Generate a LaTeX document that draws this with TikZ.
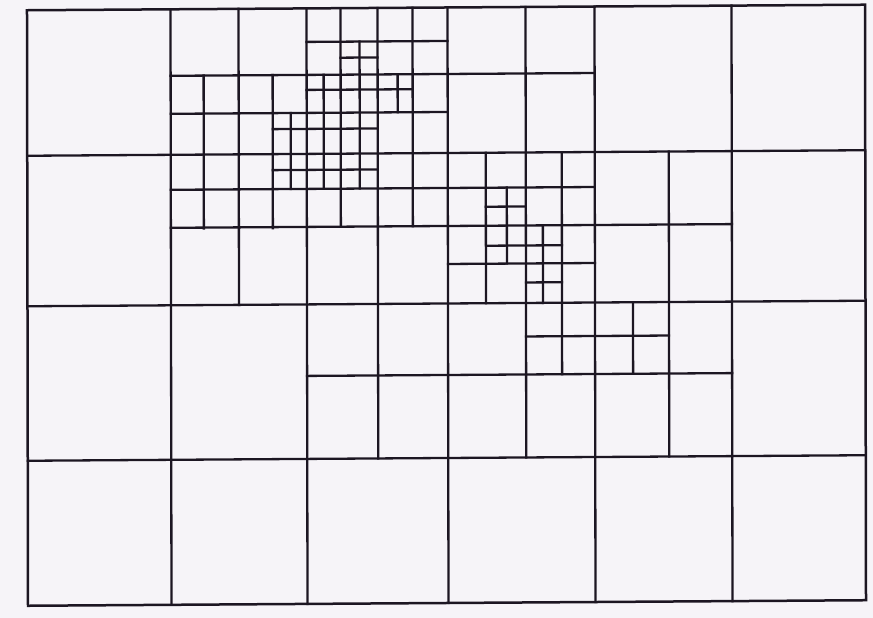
\documentclass[tikz,border=0pt]{standalone}
\definecolor{paper}{RGB}{246,244,248}
\definecolor{ink}{RGB}{28,22,34}
\tikzset{
  gridline/.style={draw=ink,line width=2.3pt,line cap=rect},
  frame/.style={draw=ink,line width=2.5pt,line join=miter}
}
\begin{document}
\begin{tikzpicture}[x=1pt,y=-1pt]
  \fill[paper] (0,0) rectangle (873,618);
  \useasboundingbox (0,0) rectangle (873,618);
  % slight skew of the scanned page
  \begin{scope}[cm={1,0.0066,-0.0017,1,(-0.52pt,-2.94pt)}]
    % full-height column lines
    \foreach \x in {171,307,448,595,732}
      \draw[gridline] (\x,7.5) -- (\x,603);
    % full-width row lines
    \foreach \y in {153,303.5,458}
      \draw[gridline] (27.5,\y) -- (865.5,\y);
    % partial vertical lines: x / top / bottom
    \foreach \x/\ya/\yb in {
      204/74/227, 239/7.5/303.5, 273/74/227, 291/112/188,
      324/74/188, 341/7.5/226, 360/41/188, 378/7.5/458,
      398/74/112, 413/7.5/226, 486/153/303.5, 507/188/264,
      526/7.5/458, 543/226/303.5, 562/153/375, 633/303.5/375,
      669/153/458}
      \draw[gridline] (\x,\ya) -- (\x,\yb);
    % partial horizontal lines: y / left / right
    \foreach \y/\xa/\xb in {
      41/307/448, 57/341/378, 74/171/595, 89/307/413,
      112/171/448, 128/273/378, 169/273/378, 188/171/595,
      207/486/526, 226/171/732, 246/486/562, 264/448/595,
      283/526/562, 337/526/669, 375/307/732}
      \draw[gridline] (\xa,\y) -- (\xb,\y);
    % outer frame
    \draw[frame] (27.5,7.5) rectangle (865.5,603);
  \end{scope}
\end{tikzpicture}
\end{document}
